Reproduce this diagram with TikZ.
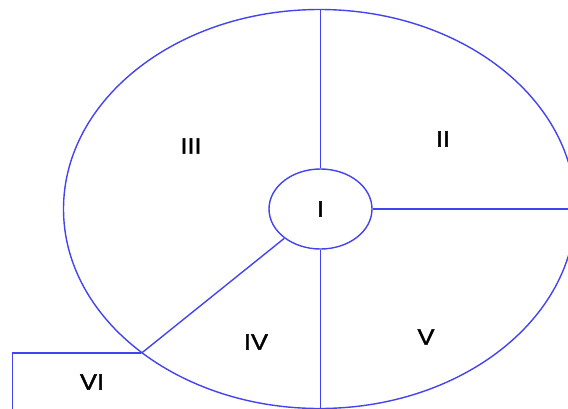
\documentclass[tikz,border=0pt]{standalone}
\usepackage{fontspec}
\setmainfont{Liberation Sans}
\newfontfamily\zonefont[FakeStretch=1.15,FakeBold=2]{Liberation Sans}
\usetikzlibrary{shapes.geometric}
\definecolor{zoneB}{HTML}{4343F0}

\begin{document}
\begin{tikzpicture}[x=1pt,y=-1pt,
    ring/.style={draw=zoneB,line width=1.4pt,ellipse,inner sep=0pt},
    spoke/.style={draw=zoneB,line width=1.4pt},
    zone/.style={font=\zonefont\fontsize{22}{26}\selectfont,inner sep=0pt}]
  \useasboundingbox (0,0) rectangle (568,408);
  \begin{scope}
  \clip (0,0) rectangle (568,408);

  \node[ring,minimum width=512pt,minimum height=399pt] (outer) at (319.5,209) {};
  \node[ring,minimum width=103pt,minimum height=80pt] (core) at (320.5,209) {};

  \draw[spoke] (core.north) -- (core.north |- outer.north);
  \draw[spoke] (core.east) -- (outer.east);
  \draw[spoke] (core.south) -- (core.south |- outer.south);
  \draw[spoke] (core.219) -- (outer.219);

  \coordinate (vileft) at (12.5,410);
  \draw[spoke] (outer.219) -- (outer.219 -| vileft) -- (vileft);
  \end{scope}

  \node[zone] (z1) at (core) {I};
  \node[zone] (z2) at (443,139) {II};
  \node[zone] (z3) at (191,146) {III};
  \node[zone] (z4) at (256,342) {IV};
  \node[zone] (z5) at (426,337) {V};
  \node[zone] (z6) at (92,382) {VI};
\end{tikzpicture}
\end{document}
